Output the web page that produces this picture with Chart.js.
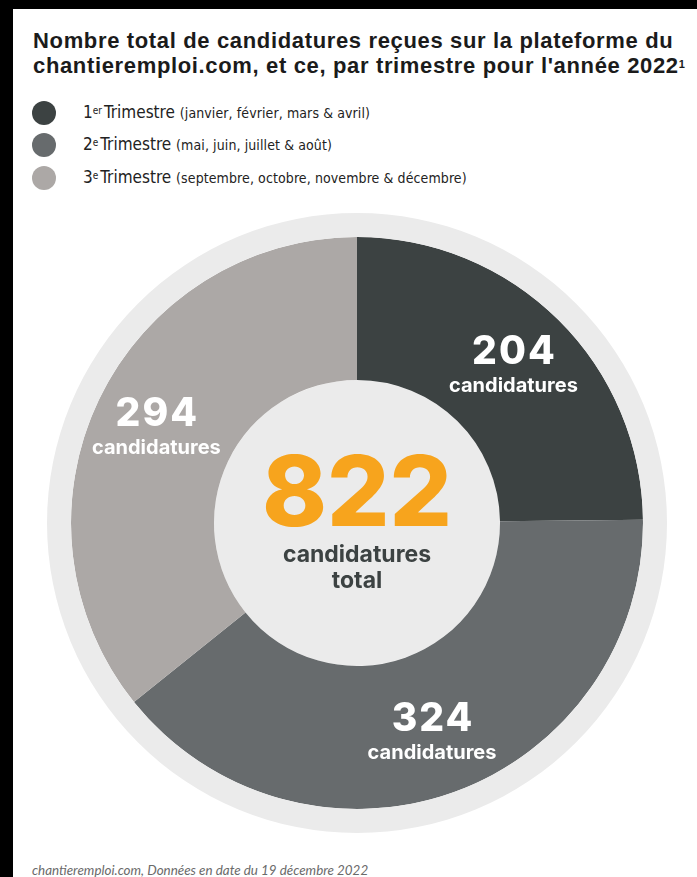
<!DOCTYPE html>
<html><head><meta charset="utf-8">
<script src="https://cdn.jsdelivr.net/npm/chart.js@4.4.1/dist/chart.umd.min.js"></script>
<style>
html,body{margin:0;padding:0;background:#fff;width:697px;height:877px;overflow:hidden;}
#frame{position:absolute;left:0;top:0;width:697px;height:877px;border-left:13px solid #000;border-top:9px solid #000;box-sizing:border-box;}
#title{position:absolute;left:33px;top:28px;font-family:"Liberation Sans",Arial,sans-serif;font-weight:700;font-size:22px;letter-spacing:0.65px;line-height:25px;color:#1b1b1b;white-space:nowrap;}
#title sup{font-size:11px;vertical-align:top;position:relative;top:-1px;}
.leg{position:absolute;left:32px;height:24px;white-space:nowrap;}
.leg .dot{position:absolute;left:0;top:0;width:24px;height:24px;border-radius:50%;}
.leg .txt{position:absolute;left:51px;top:0px;font-family:"Liberation Sans Narrow","DejaVu Sans Condensed",Roboto,sans-serif;color:#222;font-size:17px;line-height:22px;}
.leg .txt sup{font-size:10px;vertical-align:top;position:relative;top:-1px;margin-right:2px;}
.leg .txt small{font-size:14px;letter-spacing:0.1px;}
#foot{position:absolute;left:32px;top:862px;font-family:Lato,"Open Sans",sans-serif;font-style:italic;font-size:13.4px;color:#6a6a6a;white-space:nowrap;}
#wrap{position:absolute;left:47px;top:213px;width:620px;height:620px;}
</style></head>
<body>
<div id="frame"></div>
<div id="title">Nombre total de candidatures reçues sur la plateforme du<br>chantieremploi.com, et ce, par trimestre pour l'année 2022<sup>1</sup></div>
<div id="legend"></div>
<div id="wrap"><canvas id="c" width="620" height="620"></canvas></div>
<div id="foot">chantieremploi.com, Données en date du 19 décembre 2022</div>
<script>
const categories = ["1er Trimestre", "2e Trimestre", "3e Trimestre"];
const ordinals = ["1", "2", "3"];
const ordinalSup = ["er", "e", "e"];
const months = ["(janvier, février, mars & avril)", "(mai, juin, juillet & août)", "(septembre, octobre, novembre & décembre)"];
const values = [204, 324, 294];
const colors = ["#3c4242", "#676b6d", "#aca8a6"];
const ringColor = "#ebebeb";
const unitLabel = "candidatures";
const totalLabel = "total";

const total = values.reduce((a, b) => a + b, 0);

// HTML legend
const legTops = [101, 133, 166];
const legend = document.getElementById('legend');
categories.forEach((c, i) => {
  const d = document.createElement('div');
  d.className = 'leg';
  d.style.top = legTops[i] + 'px';
  d.innerHTML = '<div class="dot" style="background:' + colors[i] + '"></div>' +
    '<div class="txt">' + ordinals[i] + '<sup>' + ordinalSup[i] + '</sup>Trimestre <small>' + months[i] + '</small></div>';
  legend.appendChild(d);
});

const centerPlugin = {
  id: 'centerDisk',
  beforeDatasetsDraw(chart) {
    const arc = chart.getDatasetMeta(1).data[0];
    const ctx = chart.ctx;
    ctx.save();
    ctx.fillStyle = ringColor;
    ctx.beginPath();
    ctx.arc(arc.x, arc.y, arc.innerRadius, 0, Math.PI * 2);
    ctx.fill();
    ctx.restore();
  },
  afterDatasetsDraw(chart) {
    const meta = chart.getDatasetMeta(1);
    const ctx = chart.ctx;
    ctx.save();
    ctx.textAlign = 'center';
    ctx.textBaseline = 'alphabetic';
    meta.data.forEach((arc, i) => {
      const mid = (arc.startAngle + arc.endAngle) / 2;
      const r = (arc.innerRadius + arc.outerRadius) / 2 + 8;
      const x = arc.x + Math.cos(mid) * r;
      const y = arc.y + Math.sin(mid) * r;
      ctx.fillStyle = '#ffffff';
      ctx.font = '800 39px Inter, "Open Sans", sans-serif';
      ctx.letterSpacing = '2px';
      ctx.fillText(String(values[i]), x + 1, y - 1);
      ctx.letterSpacing = '0px';
      ctx.font = '700 20px Inter, "Open Sans", sans-serif';
      ctx.fillText(unitLabel, x, y + 27);
    });
    const a0 = meta.data[0];
    ctx.fillStyle = '#f7a41d';
    ctx.font = '800 98px Inter, "Open Sans", sans-serif';
    ctx.fillText(String(total), a0.x, a0.y + 3);
    ctx.fillStyle = '#3c4242';
    ctx.font = '700 23px Inter, "Open Sans", sans-serif';
    ctx.fillText(unitLabel, a0.x, a0.y + 39);
    ctx.fillText(totalLabel, a0.x, a0.y + 65);
    ctx.restore();
  }
};

new Chart(document.getElementById('c'), {
  type: 'doughnut',
  data: {
    labels: categories,
    datasets: [
      { data: [total], backgroundColor: [ringColor], weight: 24, borderWidth: 0, hoverOffset: 0, offset: 0 },
      { data: values, backgroundColor: colors, weight: 143, borderWidth: 0, hoverOffset: 0, offset: 0 }
    ]
  },
  options: {
    responsive: false,
    animation: false,
    cutout: '46.13%',
    layout: { padding: 0 },
    plugins: { legend: { display: false }, tooltip: { enabled: false } }
  },
  plugins: [centerPlugin]
});
</script>
</body></html>
